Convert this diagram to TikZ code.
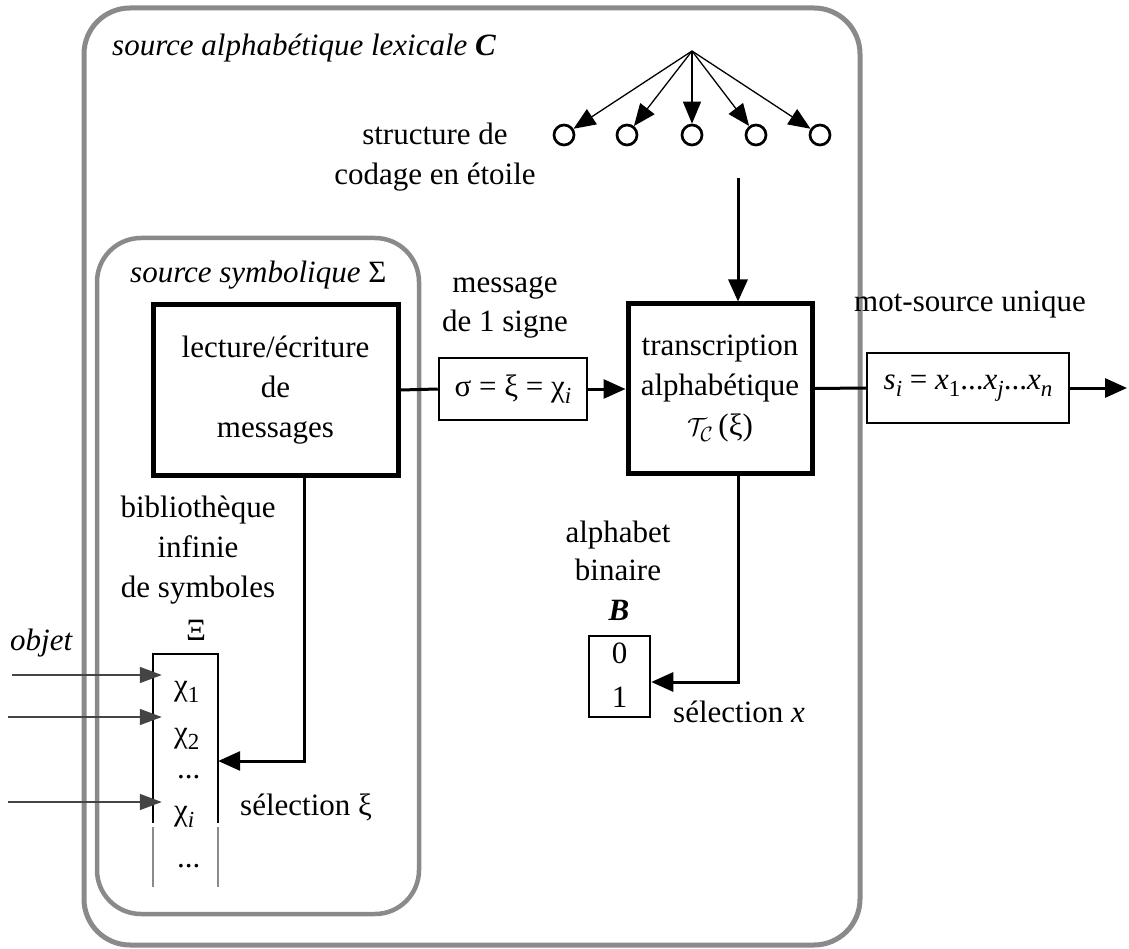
\documentclass[tikz,border=0pt]{standalone}
\usepackage{fontspec}
\setmainfont{Liberation Serif}
\usetikzlibrary{arrows.meta}
\definecolor{framegray}{HTML}{8A8A8A}
\definecolor{feedgray}{HTML}{444444}
% lowered index, italic or upright
\newcommand\ix[1]{\raisebox{-7pt}{\fontsize{23}{23}\selectfont\textit{#1}}}
\newcommand\nx[1]{\raisebox{-7pt}{\fontsize{23}{23}\selectfont #1}}
\begin{document}
\begin{tikzpicture}[x=1pt,y=-1pt,
  font=\fontsize{31}{40}\selectfont,
  frame/.style={draw=framegray, line width=5pt, rounded corners=46pt},
  bigbox/.style={draw, line width=5pt, align=center, inner sep=0pt},
  smallbox/.style={draw, line width=2.5pt, inner sep=0pt},
  link/.style={line width=3pt},
  arr/.style={link, -{Triangle[length=22pt,width=19pt]}},
  thinarr/.style={line width=1.3pt, -{Triangle[length=22pt,width=18pt]}},
  feed/.style={line width=1.5pt, draw=feedgray, -{Triangle[length=22pt,width=16pt]}, shorten >=-9pt},
  dot/.style={circle, draw, line width=2.7pt, minimum size=20pt, inner sep=0pt},
  lbl/.style={anchor=base, inner sep=0pt},
  lblw/.style={anchor=base west, inner sep=0pt},
  colline/.style={line width=2.5pt},
  colfade/.style={line width=2.5pt, draw=framegray}]
\useasboundingbox (0,0) rectangle (1129,949);

% the two nested sources
\draw[frame] (84,8) rectangle (860,945);
\draw[frame, line width=4.5pt, rounded corners=44pt] (97,238) rectangle (419,914);

\node[lblw] (tC) at (112,56) {\itshape source alphabétique lexicale \textbf{C}};
\node[lblw] (tS) at (130,283) {\textit{source symbolique} Σ};

% star coding structure
\coordinate (hub) at (692,51);
\foreach \i/\x in {1/564,2/627,3/692,4/756,5/820}{
  \node[dot] (c\i) at (\x,135) {};
  \draw[thinarr] (hub) -- (c\i);
}
\node[lbl] (st1) at (435,145) {structure de};
\node[lbl] (st2) at (435,185) {codage en étoile};

% processing boxes
\node[bigbox, minimum width=245pt, minimum height=170pt] (rw) at (275.5,390)
  {lecture/écriture\\de\\messages};
\node[bigbox, minimum width=184pt, minimum height=169pt] (tr) at (720,388.5)
  {transcription\\alphabétique\\$\mathcal{T}_{\mathcal{C}}$\,(ξ)};
\node[smallbox, minimum width=148pt, minimum height=62pt] (msg) at (513,389)
  {σ = ξ = χ\ix{i}};
\node[smallbox, minimum width=202pt, minimum height=70pt] (word) at (968,388)
  {\textit{s}\ix{i} = \textit{x}\nx{1}...\textit{x}\ix{j}...\textit{x}\ix{n}};

\node[lbl] (m1) at (505,293) {message};
\node[lbl] (m2) at (505,332) {de 1 signe};
\node[lbl] (mot) at (970,312) {mot-source unique};

% connectors between the boxes
\draw[link] (rw.east) -- (msg.west);
\draw[arr] (msg.east) -- (tr.west |- msg.east);
\draw[link] (tr.east) -- (word.west);
\coordinate (out) at (1127,388);
\draw[arr] (word.east) -- (out);
\coordinate (sdown) at (738,178);
\draw[arr] (sdown) -- (sdown |- tr.north);

% binary alphabet
\node[smallbox, minimum width=61pt, minimum height=81pt] (bin) at (619.5,676.5) {};
\node[lbl] (b0) at (619.5,663) {0};
\node[lbl] (b1) at (619.5,707) {1};
\node[lbl] (a1) at (618,542) {alphabet};
\node[lbl] (a2) at (618,580) {binaire};
\node[lbl] (aB) at (619,620) {\textbf{\textit{B}}};
\coordinate (selx) at (738,682);
\draw[arr] (sdown |- tr.south) -- (selx) -- (bin.east |- selx);
\node[lblw] (sx) at (673,722) {sélection \textit{x}};

% infinite symbol library
\node[minimum width=65pt, minimum height=233pt, inner sep=0pt] (lib) at (185.5,770.5) {};
\draw[colline] (153,823) -- (153,654) -- (218,654) -- (218,823);
\draw[colfade] (153,827) -- (153,887);
\draw[colfade] (218,827) -- (218,887);
\node[lbl] (xi) at (196,640) {Ξ};
\node[lblw] (k1) at (174,695) {χ\nx{1}};
\node[lblw] (k2) at (174,742) {χ\nx{2}};
\node[lblw] (k3) at (177,778) {...};
\node[lblw] (k4) at (174,820) {χ\ix{i}};
\node[lblw] (k5) at (177,867) {...};
\node[lbl] (l1) at (198,517) {bibliothèque};
\node[lbl] (l2) at (198,557) {infinie};
\node[lbl] (l3) at (198,597) {de symboles};

\node[lblw] (obj) at (10,650) {\textit{objet}};
\coordinate (o1) at (12,675);
\coordinate (o2) at (8,717);
\coordinate (o3) at (8,802);
\draw[feed] (o1) -- (lib.west |- o1);
\draw[feed] (o2) -- (lib.west |- o2);
\draw[feed] (o3) -- (lib.west |- o3);

\coordinate (selxi) at (304,761);
\draw[arr] (rw.south -| selxi) -- (selxi) -- (lib.east |- selxi);
\node[lblw] (sxi) at (240,815) {sélection ξ};
\end{tikzpicture}
\end{document}
